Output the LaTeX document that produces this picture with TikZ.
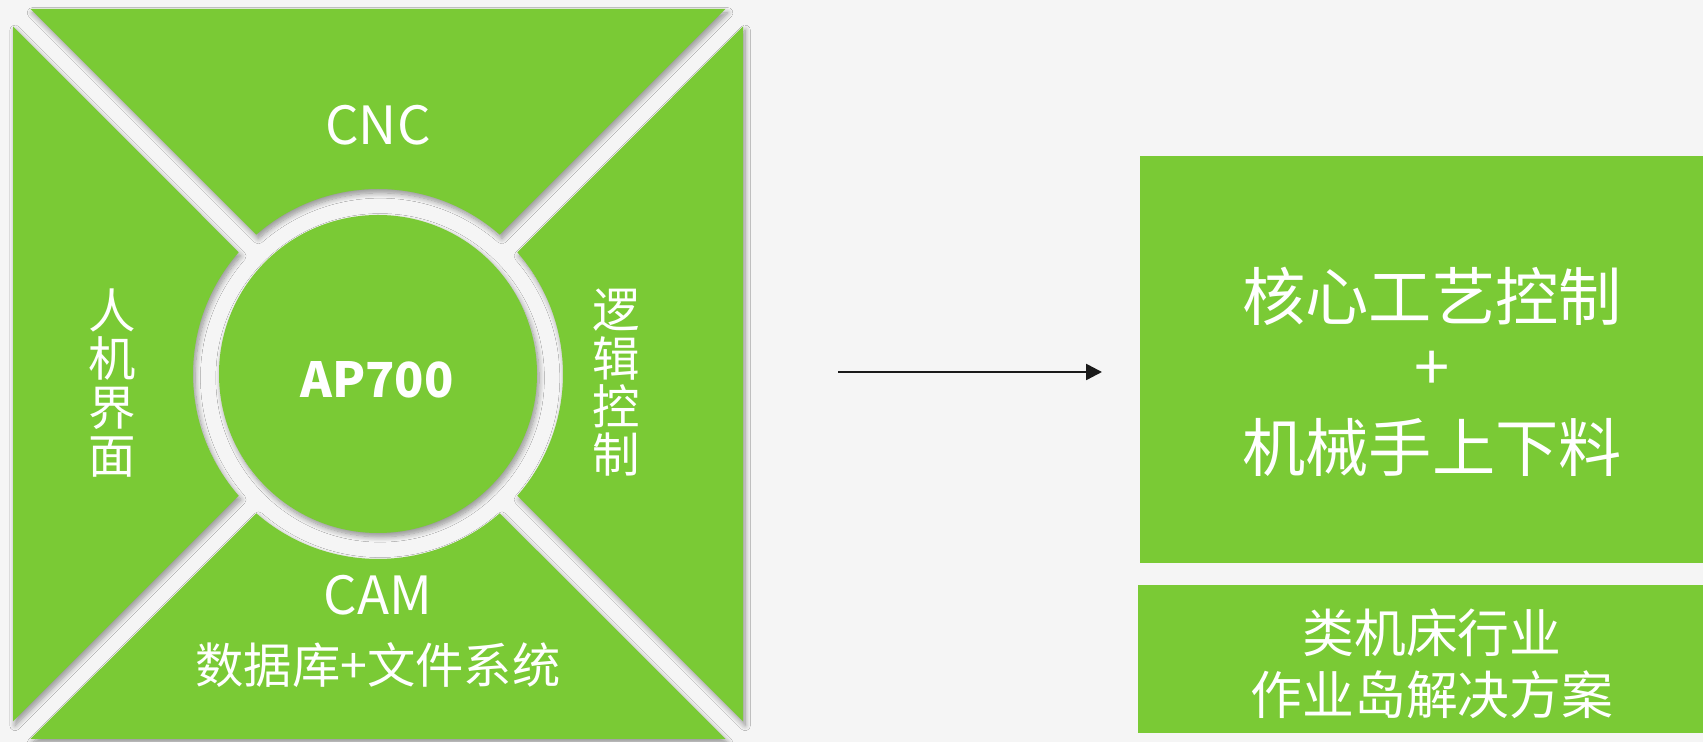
\documentclass[tikz,border=0pt]{standalone}
\usepackage{fontspec}
\setmainfont{Noto Sans CJK SC}
\usetikzlibrary{shadows.blur,arrows.meta}
\definecolor{gr}{RGB}{122,202,53}
\definecolor{bg}{RGB}{245,245,245}
\definecolor{arr}{RGB}{26,26,26}
\begin{document}
\begin{tikzpicture}[x=0.02cm,y=0.02cm,
  piece/.style={fill=gr, blur shadow={shadow xshift=1.2pt, shadow yshift=-2.2pt, shadow blur radius=3pt, shadow blur steps=10, shadow opacity=40}},
  wt/.style={text=white, inner sep=0pt, align=center},
  mid/.style={wt, font=\fontsize{30pt}{32pt}\selectfont},
  vert/.style={wt, font=\fontsize{27pt}{27.5pt}\selectfont},
  big/.style={wt, font=\fontsize{36pt}{38pt}\selectfont},
  small/.style={wt, font=\fontsize{29.5pt}{31pt}\selectfont},
]
\fill[bg] (0,0) rectangle (1703,742);
\useasboundingbox (0,0) rectangle (1703,742);

\begin{scope}[shift={(378,368)}]
  \fill[piece] (-347.5,365) -- (347.5,365) -- (48.84:185) arc[start angle=48.84, end angle=131.16, radius=185] -- cycle;
  \fill[piece] (365,347.5) -- (365,-347.5) -- (-41.16:185) arc[start angle=-41.16, end angle=41.16, radius=185] -- cycle;
  \fill[piece] (347.5,-365) -- (-347.5,-365) -- (-131.16:185) arc[start angle=-131.16, end angle=-48.84, radius=185] -- cycle;
  \fill[piece] (-365,-347.5) -- (-365,347.5) -- (138.84:185) arc[start angle=138.84, end angle=221.16, radius=185] -- cycle;
  \fill[piece] (0,0) circle[radius=159];
\end{scope}

\node[mid] (cnc) at (378,617) {CNC};
\node[wt, font=\fontsize{27.5pt}{29pt}\selectfont\bfseries] (ap) at (377,362) {AP700};
\node[vert] (hmi) at (112,359) {人\\机\\界\\面};
\node[vert] (logic) at (616,359) {逻\\辑\\控\\制};
\node[mid] (cam) at (378,147) {CAM};
\node[wt, font=\fontsize{27.5pt}{29pt}\selectfont] (db) at (378,77) {数据库+文件系统};

\fill[gr] (1140,179) rectangle (1703,586);
\fill[gr] (1138,9) rectangle (1703,157);
\node[big] (core) at (1432,446) {核心工艺控制};
\node[big] (plus) at (1432,371) {+};
\node[big] (robot) at (1432,295) {机械手上下料};
\node[small] (l1) at (1432,109) {类机床行业};
\node[small] (l2) at (1432,47) {作业岛解决方案};

\coordinate (as) at (838,370);
\coordinate (ae) at (1102,370);
\draw[arr, line width=1.4pt, -{Triangle[length=9pt, width=9pt]}] (as) -- (ae);
\end{tikzpicture}
\end{document}
